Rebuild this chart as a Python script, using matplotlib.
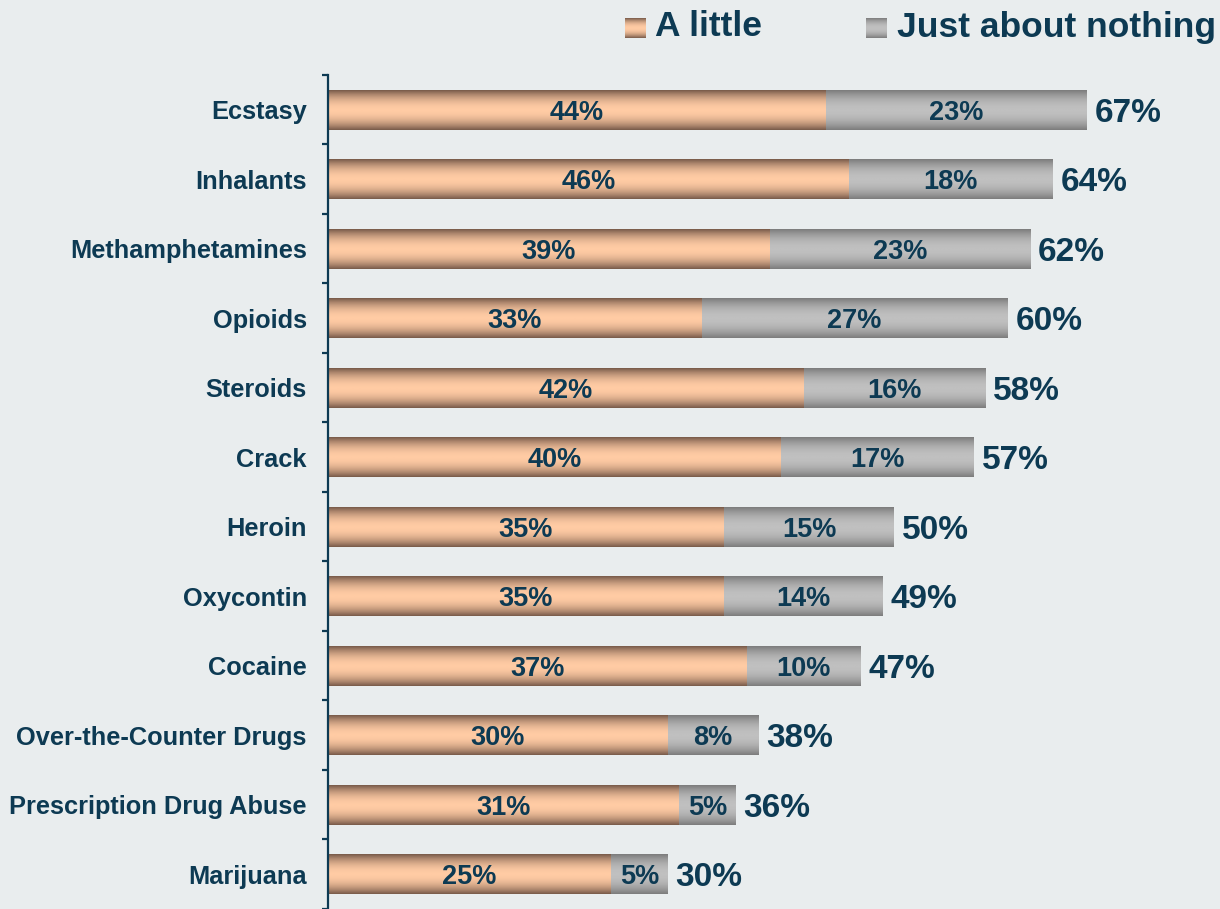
import matplotlib.pyplot as plt
import numpy as np
from matplotlib.colors import LinearSegmentedColormap

# data
drugs = ["Ecstasy", "Inhalants", "Methamphetamines", "Opioids", "Steroids", "Crack",
         "Heroin", "Oxycontin", "Cocaine", "Over-the-Counter Drugs",
         "Prescription Drug Abuse", "Marijuana"]
a_little = [44, 46, 39, 33, 42, 40, 35, 35, 37, 30, 31, 25]
nothing = [23, 18, 23, 27, 16, 17, 15, 14, 10, 8, 5, 5]
totals = [67, 64, 62, 60, 58, 57, 50, 49, 47, 38, 36, 30]
series_names = ["A little", "Just about nothing"]

BG = "#E9EDEE"
TXT = "#0D3A53"
FONT = "Liberation Sans"

orange = LinearSegmentedColormap.from_list("orange", ["#7A5C4B", "#FFCBA4"])
gray = LinearSegmentedColormap.from_list("gray", ["#7D7D7D", "#C0C0C0"])

# vertical shading: dark edges, light middle
t = np.linspace(0, 1, 64)
shade = (1 - np.abs(2 * t - 1) ** 2)[:, None]

fig = plt.figure(figsize=(12.2, 9.09), dpi=100, facecolor=BG)
ax = fig.add_axes([0.2686, 0.0, 0.7244, 0.9175], facecolor=BG)

h = 0.575
for i in range(len(drugs)):
    segs = [(0, a_little[i], orange), (a_little[i], a_little[i] + nothing[i], gray)]
    for left, right, cm in segs:
        ax.imshow(shade, cmap=cm, vmin=0, vmax=1, aspect="auto",
                  extent=[left, right, i + h / 2, i - h / 2],
                  interpolation="bilinear", zorder=2)
    ax.text(a_little[i] / 2, i, f"{a_little[i]}%", ha="center", va="center_baseline",
            fontsize=19.5, fontweight="bold", color=TXT, family=FONT, zorder=3)
    ax.text(a_little[i] + nothing[i] / 2, i, f"{nothing[i]}%", ha="center",
            va="center_baseline", fontsize=19.5, fontweight="bold", color=TXT,
            family=FONT, zorder=3)
    ax.text(totals[i] + 0.7, i, f"{totals[i]}%", ha="left", va="center_baseline",
            fontsize=24, fontweight="bold", color=TXT, family=FONT, zorder=3)

ax.set_xlim(0, 78)
ax.set_ylim(len(drugs) - 0.5, -0.5)

for s in ["top", "right", "bottom"]:
    ax.spines[s].set_visible(False)
ax.spines["left"].set_color(TXT)
ax.spines["left"].set_linewidth(1.6)
ax.set_xticks([])

ax.set_yticks(range(len(drugs)))
ax.set_yticklabels(drugs, fontsize=18.3, fontweight="bold", color=TXT, family=FONT)
ax.tick_params(axis="y", which="major", length=0, pad=15)
ax.set_yticks(np.arange(-0.5, len(drugs)), minor=True)
ax.tick_params(axis="y", which="minor", length=4, width=1.6, color=TXT, direction="out")

# legend
W, H = 1220, 909
legend_items = [(625, 655, orange, series_names[0]), (866, 897, gray, series_names[1])]
for sx, tx, cm, name in legend_items:
    lax = fig.add_axes([sx / W, 1 - 38 / H, 21 / W, 20 / H])
    lax.imshow(shade, cmap=cm, vmin=0, vmax=1, aspect="auto", interpolation="bilinear")
    lax.axis("off")
    fig.text(tx / W, 1 - 27 / H, name, ha="left", va="center", fontsize=25.5,
             fontweight="bold", color=TXT, family=FONT)

fig.savefig("out.png", dpi=100, facecolor=BG)
